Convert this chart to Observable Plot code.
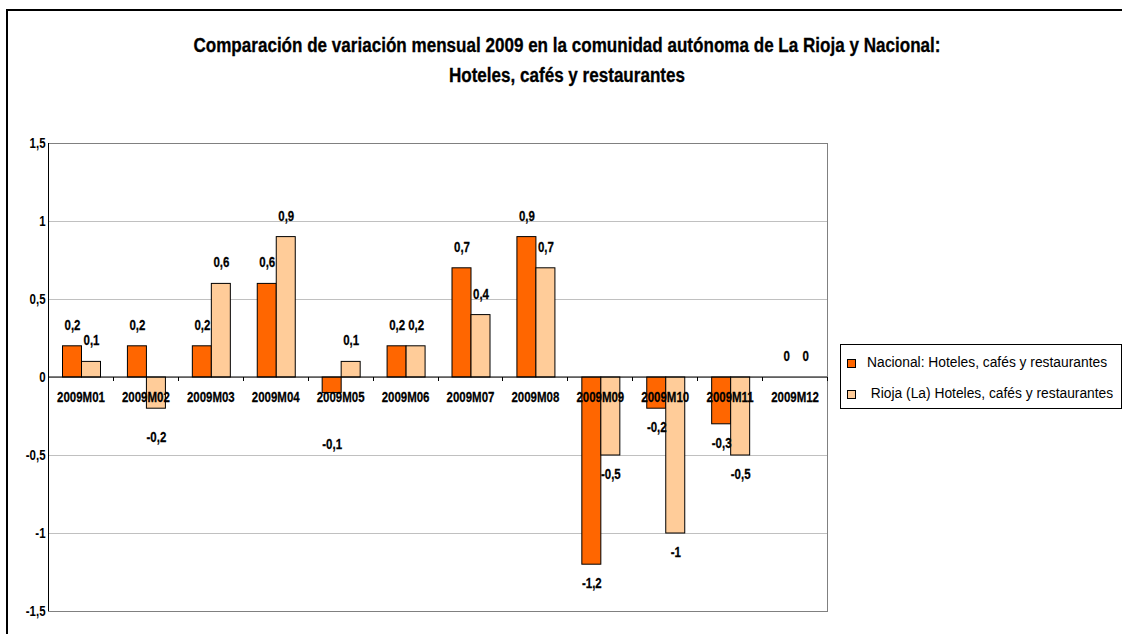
<!DOCTYPE html>
<html>
<head>
<meta charset="utf-8">
<script src="https://cdn.jsdelivr.net/npm/d3@7"></script>
<script src="https://cdn.jsdelivr.net/npm/@observablehq/plot@0.6"></script>
<style>
  html, body { margin: 0; padding: 0; background: #fff; overflow: hidden; }
  body { width: 1122px; height: 634px; position: relative; }
  #border { position: absolute; left: 6px; top: 9px; width: 1300px; height: 800px; border-top: 2px solid #000; border-left: 2px solid #000; }
  #title { position: absolute; left: 0; top: 30px; width: 1134px; text-align: center; font-family: "Liberation Sans", Arial, sans-serif; font-weight: bold; font-size: 19.5px; line-height: 30px; color: #000; -webkit-text-stroke: 0.3px #000; }
  #title span { display: inline-block; transform-origin: center; white-space: pre; }
  #chart { position: absolute; left: 0; top: 0; }
  #legend { position: absolute; left: 840px; top: 344px; width: 280px; height: 63px; border: 1px solid #000; font-family: "Liberation Sans", Arial, sans-serif; font-size: 13.8px; color: #000; }
  .item { position: absolute; left: 0; height: 16px; line-height: 16px; white-space: pre; }
  .sw { position: absolute; left: 6px; top: 4px; width: 7px; height: 7px; border: 1px solid #000; }
  .lbl { position: absolute; left: 26px; top: 0; }
</style>
</head>
<body>
<div id="border"></div>
<div id="chart"></div>
<div id="title"></div>
<div id="legend"></div>
<script>
// ---- data ----
const titleLines = [
  "Comparación de variación mensual 2009 en la comunidad autónoma de La Rioja y Nacional:",
  "Hoteles, cafés y restaurantes"
];
const months = ["2009M01","2009M02","2009M03","2009M04","2009M05","2009M06",
                "2009M07","2009M08","2009M09","2009M10","2009M11","2009M12"];
const nacional = [0.2, 0.2, 0.2, 0.6, -0.1, 0.2, 0.7, 0.9, -1.2, -0.2, -0.3, 0];
const rioja    = [0.1, -0.2, 0.6, 0.9, 0.1, 0.2, 0.4, 0.7, -0.5, -1, -0.5, 0];
const seriesNames = ["Nacional: Hoteles, cafés y restaurantes", " Rioja (La) Hoteles, cafés y restaurantes"];
const seriesColors = ["#FF6600", "#FFCC99"];
const yTicks = [-1.5, -1, -0.5, 0, 0.5, 1, 1.5];

// ---- layout ----
const W = 1122, H = 634;
const mL = 48, mR = 295, mT = 143, mB = 23;
const bw = (W - mL - mR) / months.length;
const barW = 19;
const groupStart = 14.5;
const NARROW = 0.82; // emulate Arial Narrow
const FS = 14;
const fmt = d => String(d).replace(".", ",");

// title (narrowed Arial bold)
const titleEl = document.getElementById("title");
titleEl.innerHTML = titleLines.map(t => `<div><span>${t}</span></div>`).join("");
const spans = titleEl.querySelectorAll("span");
const titleScale = 747 / spans[0].getBoundingClientRect().width;
spans.forEach(s => s.style.transform = `scaleX(${titleScale})`);

const series = [nacional, rioja].map((vals, s) => months.map((m, i) => ({month: m, value: vals[i], s})));

// Excel pushed a couple of small negative labels further down
const extraNeg = {"0|2009M05": 32, "1|2009M02": 10};

function barMarks(data, s) {
  const left = groupStart + s * barW;
  const right = bw - left - barW;
  return Plot.barY(data, {x: "month", y: "value", fill: seriesColors[s], stroke: "#000", strokeWidth: 1,
    insetLeft: left, insetRight: right});
}
const textStyle = {fontWeight: "bold", fontSize: FS, fill: "#000", stroke: "#000", strokeWidth: 0.25};
function labelMarks(data, s) {
  const dx = groupStart + s * barW + barW / 2 - bw / 2;
  const common = {x: "month", y: "value", text: d => fmt(d.value), dx, ...textStyle};
  const out = [Plot.text(data.filter(d => d.value >= 0), {...common, dy: -21})];
  const neg = data.filter(d => d.value < 0);
  const groups = d3.group(neg, d => extraNeg[s + "|" + d.month] || 0);
  for (const [extra, arr] of groups) out.push(Plot.text(arr, {...common, dy: 19 + extra}));
  return out;
}

function axisLines(index, scales, values, dims) {
  const g = d3.create("svg:g");
  const x0 = dims.marginLeft, x1 = dims.width - dims.marginRight;
  const y0 = scales.y(0);
  g.append("line").attr("x1", x0).attr("x2", x1).attr("y1", y0).attr("y2", y0).attr("stroke", "#000");
  const step = (x1 - x0) / months.length;
  for (let k = 1; k <= months.length; k++) {
    const x = Math.round(x0 + k * step) + 0.5;
    g.append("line").attr("x1", x).attr("x2", x).attr("y1", y0).attr("y2", y0 + 4).attr("stroke", "#000");
  }
  g.append("line").attr("x1", x0 + 0.5).attr("x2", x0 + 0.5).attr("y1", dims.marginTop).attr("y2", dims.height - dims.marginBottom).attr("stroke", "#000");
  return g.node();
}

const chart = Plot.plot({
  width: W, height: H,
  marginLeft: mL, marginRight: mR, marginTop: mT, marginBottom: mB,
  style: {fontFamily: '"Liberation Sans", Arial, sans-serif', fontSize: FS + "px", fontWeight: "bold", color: "#000", background: "transparent"},
  x: {type: "band", domain: months, padding: 0, round: false, axis: null},
  y: {domain: [-1.5, 1.5], axis: null},
  marks: [
    Plot.gridY(yTicks, {stroke: "#c0c0c0", strokeOpacity: 1}),
    Plot.frame({stroke: "#808080"}),
    ...series.map((d, s) => barMarks(d, s)),
    axisLines,
    Plot.axisY(yTicks, {tickSize: 0, tickPadding: 3, tickFormat: fmt, label: null, ...textStyle}),
    Plot.text(months, {x: d => d, y: 0, dy: 20, text: d => d, ...textStyle}),
    ...series.flatMap((d, s) => labelMarks(d, s))
  ]
});
document.getElementById("chart").appendChild(chart);

// narrow every SVG text around its anchor point
chart.querySelectorAll("text").forEach(t => {
  const anchor = getComputedStyle(t).textAnchor;
  const wrap = document.createElementNS("http://www.w3.org/2000/svg", "g");
  t.parentNode.insertBefore(wrap, t);
  wrap.appendChild(t);
  const b = wrap.getBBox();
  const ax = anchor === "end" ? b.x + b.width : anchor === "start" ? b.x : b.x + b.width / 2;
  wrap.setAttribute("transform", `translate(${ax},0) scale(${NARROW},1) translate(${-ax},0)`);
});

const legend = document.getElementById("legend");
seriesNames.forEach((name, s) => {
  const it = document.createElement("div");
  it.className = "item";
  it.style.top = (s === 0 ? 10 : 41) + "px";
  it.innerHTML = `<div class="sw" style="background:${seriesColors[s]}"></div><div class="lbl">${name}</div>`;
  legend.appendChild(it);
});
</script>
</body>
</html>
